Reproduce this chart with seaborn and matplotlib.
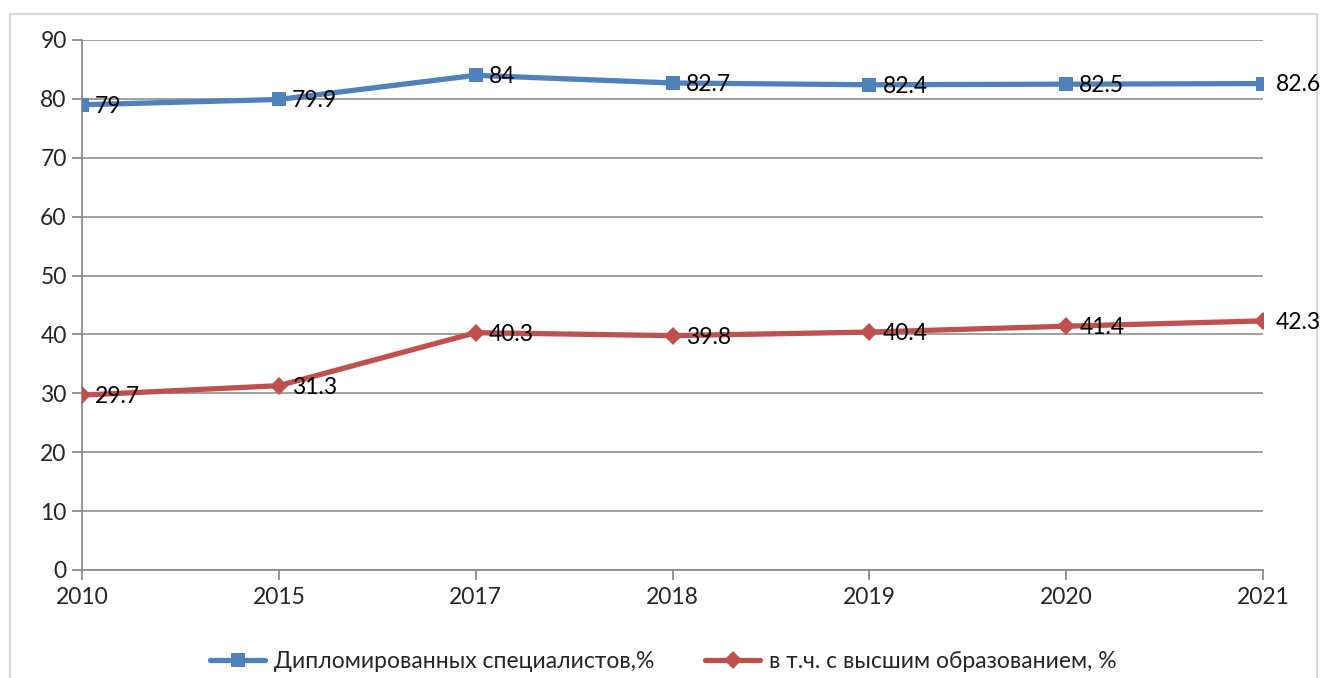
import matplotlib
matplotlib.use("Agg")
import matplotlib.pyplot as plt
from matplotlib.patches import Rectangle
import seaborn as sns
import pandas as pd

years = ["2010", "2015", "2017", "2018", "2019", "2020", "2021"]
diplomas = [79, 79.9, 84, 82.7, 82.4, 82.5, 82.6]
higher_ed = [29.7, 31.3, 40.3, 39.8, 40.4, 41.4, 42.3]
series_names = ["Дипломированных специалистов,%", "в т.ч. с высшим образованием, %"]

sns.set_theme(style="white")
plt.rcParams["font.family"] = ["Lato", "DejaVu Sans"]

pos = list(range(len(years)))
df = pd.DataFrame({
    "pos": pos * 2,
    "value": diplomas + higher_ed,
    "series": [series_names[0]] * len(years) + [series_names[1]] * len(years),
})

fig = plt.figure(figsize=(13.27, 6.78), dpi=100)
ax = fig.add_axes([82 / 1327, 1 - 570 / 678, (1263 - 82) / 1327, (570 - 40) / 678])

palette = {series_names[0]: "#4F81BD", series_names[1]: "#C0504D"}
markers = {series_names[0]: "s", series_names[1]: "D"}
sns.lineplot(data=df, x="pos", y="value", hue="series", style="series",
             palette=palette, markers=markers, dashes=False, linewidth=3.8,
             markersize=10.5, markeredgewidth=0, ax=ax, zorder=3)

# diamond drawn a bit smaller than the squares
for line in ax.get_lines():
    if line.get_marker() == "D":
        line.set_markersize(9)

for vals in (diplomas, higher_ed):
    for x, v in zip(pos, vals):
        ax.annotate(f"{v:g}", (x, v), xytext=(9.5, -1), textcoords="offset points",
                    ha="left", va="center", fontsize=16.5, color="black", zorder=4,
                    annotation_clip=False)

ax.set_xlim(0, len(years) - 1)
ax.set_ylim(0, 90)
ax.set_yticks(range(0, 91, 10))
ax.set_xticks(pos)
ax.set_xticklabels(years)
ax.set_xlabel("")
ax.set_ylabel("")
ax.grid(axis="y", color="#999999", linewidth=1.3)
ax.set_axisbelow(True)
for s in ["top", "right"]:
    ax.spines[s].set_visible(False)
for s in ["left", "bottom"]:
    ax.spines[s].set_color("#8c8c8c")
    ax.spines[s].set_linewidth(1.3)
ax.tick_params(axis="both", which="both", length=7, width=1.3, color="#8c8c8c",
               labelsize=16.5, pad=4, direction="out", left=True, bottom=True)
ax.tick_params(axis="x", pad=5)

handles, labels = ax.get_legend_handles_labels()
ax.legend(handles, labels, loc="center", bbox_to_anchor=(0.5, 1 - 662 / 678),
          bbox_transform=fig.transFigure, ncol=2, frameon=False, fontsize=16.5,
          handlelength=2.4, columnspacing=2.2, handletextpad=0.4)

# light chart-area border, kept underneath the plot so the labels sit on top
fig.patches.append(Rectangle((10 / 1327, -0.02), (1317 - 10) / 1327, 1 - 14 / 678 + 0.02,
                             transform=fig.transFigure, fill=False,
                             edgecolor="#d9d9d9", linewidth=1.5, zorder=-1))

fig.savefig("out.png", dpi=100)
